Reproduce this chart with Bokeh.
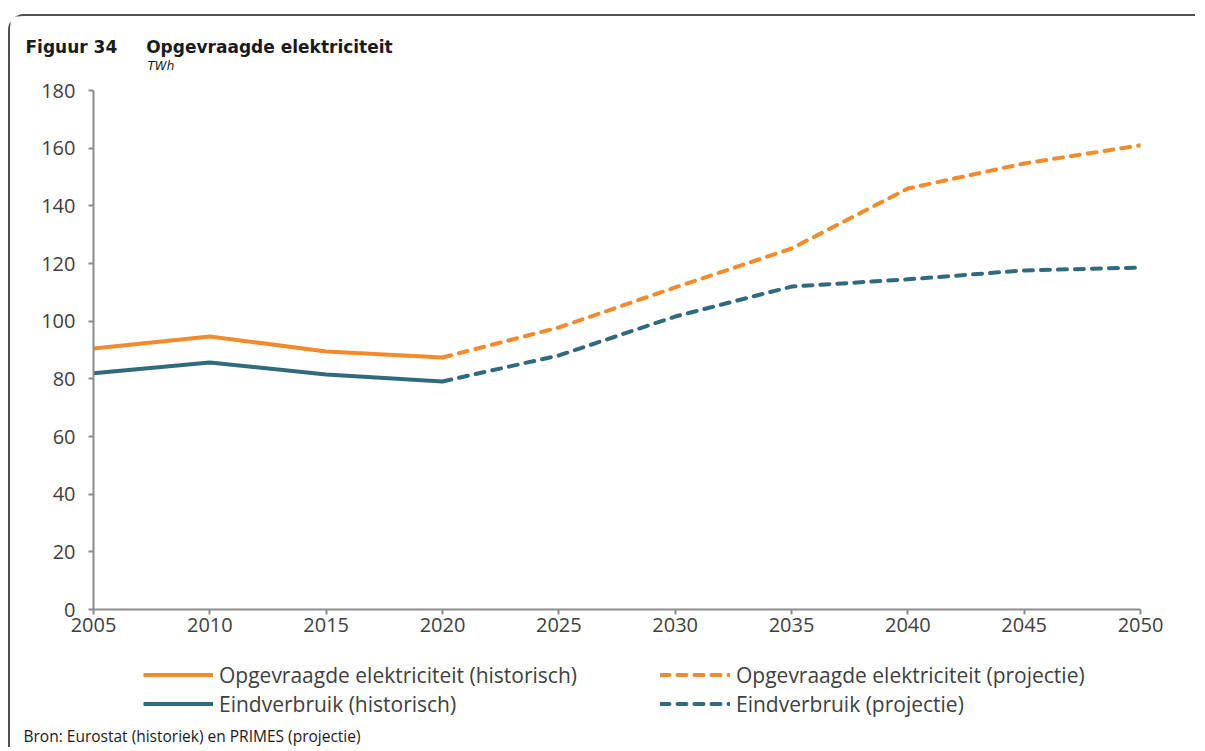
from bokeh.plotting import figure
from bokeh.layouts import column
from bokeh.models import (FixedTicker, Range1d, Legend, LegendItem, Label)
from bokeh.embed import file_html
from bokeh.resources import INLINE

# ---- data ----
years_hist = [2005, 2010, 2015, 2020]
vraag_hist = [90.5, 94.7, 89.5, 87.4]
eind_hist = [81.9, 85.7, 81.5, 79.1]

years_proj = [2020, 2025, 2030, 2035, 2040, 2045, 2050]
vraag_proj = [87.4, 97.8, 111.7, 125.2, 146.0, 154.7, 161.0]
eind_proj = [79.1, 88.1, 101.6, 112.0, 114.5, 117.6, 118.6]

x_ticks = [2005, 2010, 2015, 2020, 2025, 2030, 2035, 2040, 2045, 2050]
y_ticks = [0, 20, 40, 60, 80, 100, 120, 140, 160, 180]

labels = ["Opgevraagde elektriciteit (historisch)",
          "Opgevraagde elektriciteit (projectie)",
          "Eindverbruik (historisch)",
          "Eindverbruik (projectie)"]

title_text = "Figuur 34\u2003\u2002\u2009Opgevraagde elektriciteit"
unit_text = "TWh"
source_text = "Bron: Eurostat (historiek) en PRIMES (projectie)"

ORANGE = "#F58A2B"
TEAL = "#2F6A7F"
AXIS = "#8c8c8c"
TXT = "#404040"
FONT = "Open Sans"
DASH = "9 8"
W = 1185


def add_lines(fig):
    r1 = fig.line(years_hist, vraag_hist, line_color=ORANGE, line_width=4,
                  line_join="round")
    r2 = fig.line(years_proj, vraag_proj, line_color=ORANGE, line_width=4,
                  line_dash=DASH, line_cap="round", line_join="round")
    r3 = fig.line(years_hist, eind_hist, line_color=TEAL, line_width=4,
                  line_join="round")
    r4 = fig.line(years_proj, eind_proj, line_color=TEAL, line_width=4,
                  line_dash=DASH, line_cap="round", line_join="round")
    return [r1, r2, r3, r4]


def strip(height):
    f = figure(width=W, height=height, output_backend="svg", toolbar_location=None,
               x_range=Range1d(0, 1), y_range=Range1d(0, 1),
               x_axis_location=None, y_axis_location=None,
               min_border_left=0, min_border_right=0, min_border_top=0,
               min_border_bottom=0, title=None)
    f.outline_line_color = None
    f.grid.visible = False
    if "frame_align" in f.properties():
        f.frame_align = False
    return f


# ---- header ----
hf = strip(60)
hf.add_layout(Label(x=15, y=30, x_units="screen", y_units="screen", text=title_text,
                    text_font="DejaVu Sans", text_font_style="bold",
                    text_font_size="17px", text_color="#1a1a1a",
                    text_baseline="middle"))
hf.add_layout(Label(x=137, y=11, x_units="screen", y_units="screen", text=unit_text,
                    text_font="DejaVu Sans", text_font_style="italic",
                    text_font_size="12px", text_color="#1a1a1a",
                    text_baseline="middle"))

# ---- main chart ----
p = figure(width=W, height=574, output_backend="svg", toolbar_location=None,
           x_range=Range1d(2005, 2050), y_range=Range1d(0, 180),
           min_border_left=83, min_border_right=55, min_border_top=14,
           min_border_bottom=41, title=None)
p.outline_line_color = None
p.grid.visible = False

for ax, ticks in ((p.xaxis[0], x_ticks), (p.yaxis[0], y_ticks)):
    ax.ticker = FixedTicker(ticks=ticks)
    ax.axis_line_color = AXIS
    ax.axis_line_width = 2
    ax.major_tick_line_color = AXIS
    ax.major_tick_line_width = 2
    ax.major_tick_out = 5
    ax.major_tick_in = 0
    ax.minor_tick_line_color = None
    ax.major_label_text_font = FONT
    ax.major_label_text_font_size = "20px"
    ax.major_label_text_color = TXT
p.xaxis.major_label_standoff = 3
p.yaxis.major_label_standoff = 13

add_lines(p)

# ---- legend + source strip ----
lf = strip(97)
rs = add_lines(lf)

legend = Legend(items=[LegendItem(label=lab, renderers=[r]) for lab, r in zip(labels, rs)],
                location=(133, 29), orientation="horizontal", ncols=2,
                glyph_width=70, glyph_height=29, label_height=29, label_width=441,
                label_standoff=6, spacing=0, padding=0, margin=0,
                border_line_color=None, background_fill_alpha=0,
                label_text_font=FONT, label_text_font_size="21px",
                label_text_color=TXT)
lf.add_layout(legend, "center")

lf.add_layout(Label(x=13, y=12, x_units="screen", y_units="screen", text=source_text,
                    text_font=FONT, text_font_size="15.5px", text_color="#1a1a1a",
                    text_baseline="middle"))

layout = column(hf, p, lf, spacing=0)
layout.styles = {"border-top": "2px solid #505050", "border-left": "2px solid #505050",
                 "border-top-left-radius": "16px", "margin-top": "14px",
                 "margin-left": "8px"}

open("out.html", "w").write(file_html(layout, INLINE))
